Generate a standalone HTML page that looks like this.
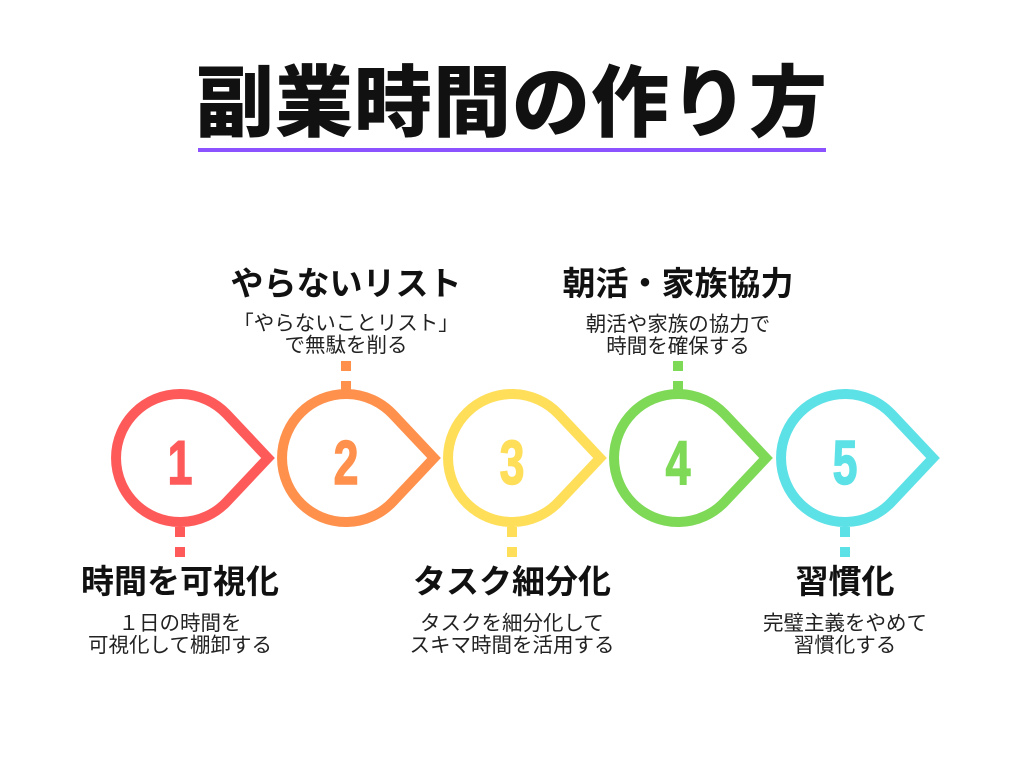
<!DOCTYPE html>
<html><head><meta charset="utf-8"><style>
html,body{margin:0;padding:0;background:#fff;}
body{width:1024px;height:768px;overflow:hidden;position:relative;font-family:"Liberation Sans","Noto Sans CJK JP",sans-serif;}
.t{position:absolute;white-space:nowrap;text-align:center;transform:translateX(-50%);color:#111;}
.h{font-weight:bold;font-size:33px;line-height:36px;}
.s{font-size:20.5px;line-height:22px;color:#222;}
</style></head><body>
<div class="t" style="left:512px;top:58px;font-size:78px;font-weight:900;line-height:90px;letter-spacing:1px;">副業時間の作り方</div>
<div style="position:absolute;left:198px;top:148px;width:628px;height:4px;background:#8C52FF;"></div>

<svg width="1024" height="768" style="position:absolute;left:0;top:0" xmlns="http://www.w3.org/2000/svg">
<g fill="none" stroke-width="10" stroke-miterlimit="10">
<path d="M268 458 L226.6 414.1 A64 64 0 1 0 226.6 501.9 Z" stroke="#FF5A5A"/>
<path d="M434 458 L392.6 414.1 A64 64 0 1 0 392.6 501.9 Z" stroke="#FF914D"/>
<path d="M600 458 L558.6 414.1 A64 64 0 1 0 558.6 501.9 Z" stroke="#FFDE59"/>
<path d="M766 458 L724.6 414.1 A64 64 0 1 0 724.6 501.9 Z" stroke="#7ED957"/>
<path d="M933 458 L891.6 414.1 A64 64 0 1 0 891.6 501.9 Z" stroke="#5CE1E6"/>
</g>
<rect x="175" y="527" width="10" height="10" fill="#FF5A5A"/><rect x="175" y="547" width="10" height="10" fill="#FF5A5A"/>
<rect x="341" y="361" width="10" height="10" fill="#FF914D"/><rect x="341" y="381" width="10" height="10" fill="#FF914D"/>
<rect x="507" y="527" width="10" height="10" fill="#FFDE59"/><rect x="507" y="547" width="10" height="10" fill="#FFDE59"/>
<rect x="673" y="361" width="10" height="10" fill="#7ED957"/><rect x="673" y="381" width="10" height="10" fill="#7ED957"/>
<rect x="840" y="527" width="10" height="10" fill="#5CE1E6"/><rect x="840" y="547" width="10" height="10" fill="#5CE1E6"/>
<g font-family="Liberation Sans Narrow, Liberation Sans, sans-serif" font-weight="bold" font-size="62" text-anchor="middle" stroke-width="1.5">
<text x="0" y="0" fill="#FF5A5A" stroke="#FF5A5A" transform="translate(180 484) scale(0.72 1)">1</text>
<text x="0" y="0" fill="#FF914D" stroke="#FF914D" transform="translate(346 484) scale(0.72 1)">2</text>
<text x="0" y="0" fill="#FFDE59" stroke="#FFDE59" transform="translate(512 484) scale(0.72 1)">3</text>
<text x="0" y="0" fill="#7ED957" stroke="#7ED957" transform="translate(678 484) scale(0.72 1)">4</text>
<text x="0" y="0" fill="#5CE1E6" stroke="#5CE1E6" transform="translate(845 484) scale(0.72 1)">5</text>
</g>
</svg>

<div class="t h" style="left:346px;top:266px;">やらないリスト</div>
<div class="t s" style="left:346px;top:313px;">「やらないことリスト」<br>で無駄を削る</div>
<div class="t h" style="left:678px;top:266px;">朝活・家族協力</div>
<div class="t s" style="left:678px;top:314px;">朝活や家族の協力で<br>時間を確保する</div>

<div class="t h" style="left:180px;top:564px;">時間を可視化</div>
<div class="t s" style="left:180px;top:613px;">１日の時間を<br>可視化して棚卸する</div>
<div class="t h" style="left:512px;top:564px;">タスク細分化</div>
<div class="t s" style="left:512px;top:613px;">タスクを細分化して<br>スキマ時間を活用する</div>
<div class="t h" style="left:845px;top:564px;">習慣化</div>
<div class="t s" style="left:845px;top:613px;">完璧主義をやめて<br>習慣化する</div>
</body></html>
